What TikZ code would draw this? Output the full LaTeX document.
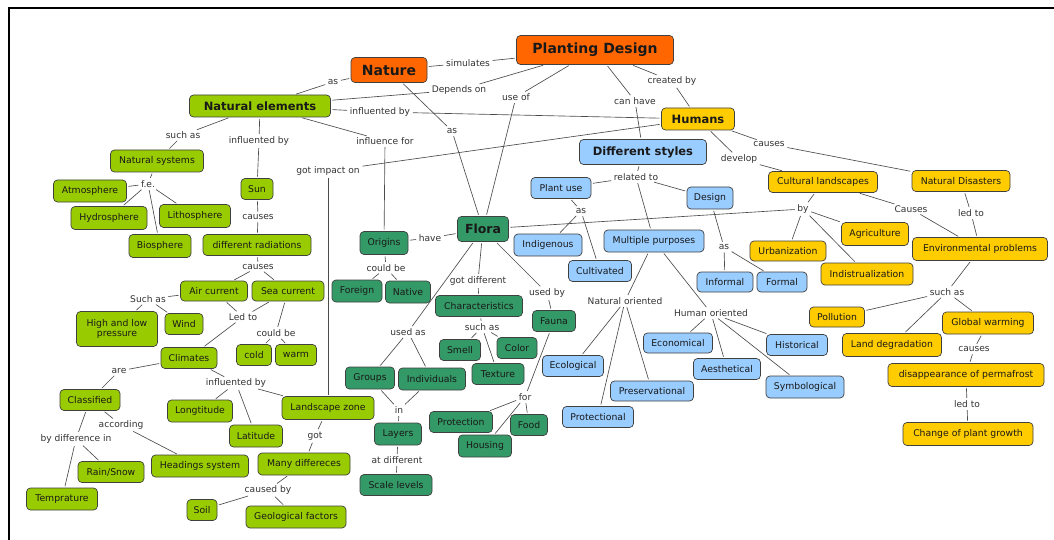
\documentclass[tikz,border=0pt]{standalone}
\usepackage{fontspec}
\setmainfont{DejaVu Sans}
\definecolor{corange}{RGB}{255,102,0}
\definecolor{clime}{RGB}{153,204,0}
\definecolor{cdg}{RGB}{51,153,102}
\definecolor{clb}{RGB}{153,204,255}
\definecolor{cyl}{RGB}{255,204,0}
\tikzset{
  box/.style={rounded corners=4pt, draw=black!75, line width=0.7pt, inner sep=1pt,
    font=\fontsize{9.3}{10.5}\selectfont, align=center, text=black!90},
  wh/.style 2 args={minimum width=#1pt, minimum height=#2pt},
  org/.style={box, fill=corange},
  lim/.style={box, fill=clime},
  dkg/.style={box, fill=cdg},
  lbl/.style={box, fill=clb},
  ylw/.style={box, fill=cyl},
  bigf/.style={font=\fontsize{14}{16}\bfseries\selectfont},
  medf/.style={font=\fontsize{11.5}{13}\bfseries\selectfont},
  lk/.style={inner sep=1pt, font=\fontsize{9.1}{10}\selectfont, text=black!80},
  ln/.style={draw=black!70, line width=0.65pt, shorten <=1.5pt, shorten >=1.5pt}
}
\newcommand\lkk[3]{\draw[ln] (#1) -- (#2); \foreach \t in {#3} {\draw[ln] (#2) -- (\t);}}
\begin{document}
\begin{tikzpicture}[x=1pt,y=-1pt]
\useasboundingbox (0,0) rectangle (1054,540);
\fill[white] (0,0) rectangle (1054,540);
\draw[line width=2pt] (9,541) -- (9,8) -- (1055,8);
% orange
\node[org,wh={157}{29},bigf] (pd) at (595,50) {Planting Design};
\node[org,wh={76}{25},bigf] (nat) at (389,70) {Nature};
% lime
\node[lim,wh={141}{22},medf] (ne) at (260,106) {Natural elements};
\node[lim,wh={93}{22}] (nsys) at (157,161) {Natural systems};
\node[lim,wh={73}{22}] (atm) at (90,191) {Atmosphere};
\node[lim,wh={76}{23}] (hyd) at (109,218) {Hydrosphere};
\node[lim,wh={71}{23}] (lith) at (195,216) {Lithosphere};
\node[lim,wh={62}{23}] (bio) at (160,246) {Biosphere};
\node[lim,wh={32}{21}] (sun) at (257,189) {Sun};
\node[lim,wh={108}{21}] (rad) at (257,245) {different radiations};
\node[lim,wh={67}{20}] (air) at (214,291) {Air current};
\node[lim,wh={72}{20}] (sea) at (288,291) {Sea current};
\node[lim,wh={81}{35}] (hlp) at (117,329) {High and low\\pressure};
\node[lim,wh={38}{21}] (wind) at (184,324) {Wind};
\node[lim,wh={56}{21}] (clim) at (189,358) {Climates};
\node[lim,wh={35}{21}] (cold) at (254,355) {cold};
\node[lim,wh={41}{21}] (warm) at (296,355) {warm};
\node[lim,wh={60}{21}] (cls) at (90,400) {Classified};
\node[lim,wh={65}{22}] (lon) at (200,411) {Longtitude};
\node[lim,wh={53}{22}] (lat) at (256,436) {Latitude};
\node[lim,wh={92}{23}] (lz) at (328,408) {Landscape zone};
\node[lim,wh={97}{22}] (hs) at (200,466) {Headings system};
\node[lim,wh={66}{21}] (rs) at (111,472) {Rain/Snow};
\node[lim,wh={71}{22}] (tmp) at (62,499) {Temprature};
\node[lim,wh={92}{22}] (md) at (304,464) {Many differeces};
\node[lim,wh={30}{21}] (soil) at (202,510) {Soil};
\node[lim,wh={100}{22}] (geo) at (296,517) {Geological factors};
% dark green
\node[dkg,wh={51}{25},font=\fontsize{12.5}{14}\bfseries\selectfont] (flora) at (483,229) {Flora};
\node[dkg,wh={48}{23}] (orig) at (384,243) {Origins};
\node[dkg,wh={50}{22}] (forg) at (357,291) {Foreign};
\node[dkg,wh={45}{22}] (nati) at (408,292) {Native};
\node[dkg,wh={87}{21}] (char) at (479,306) {Characteristics};
\node[dkg,wh={41}{21}] (smell) at (460,350) {Smell};
\node[dkg,wh={40}{21}] (color) at (517,348) {Color};
\node[dkg,wh={52}{21}] (tex) at (498,374) {Texture};
\node[dkg,wh={43}{21}] (fauna) at (554,321) {Fauna};
\node[dkg,wh={49}{22}] (grp) at (370,378) {Groups};
\node[dkg,wh={67}{22}] (ind) at (432,379) {Individuals};
\node[dkg,wh={47}{22}] (lay) at (398,434) {Layers};
\node[dkg,wh={72}{21}] (scl) at (396,485) {Scale levels};
\node[dkg,wh={63}{21}] (prot) at (461,422) {Protection};
\node[dkg,wh={37}{21}] (food) at (529,425) {Food};
\node[dkg,wh={53}{22}] (hous) at (485,446) {Housing};
% light blue
\node[lbl,wh={127}{25},medf] (ds) at (643,152) {Different styles};
\node[lbl,wh={60}{21}] (pu) at (561,188) {Plant use};
\node[lbl,wh={46}{22}] (des) at (710,198) {Design};
\node[lbl,wh={68}{22}] (indg) at (548,245) {Indigenous};
\node[lbl,wh={63}{21}] (cult) at (600,271) {Cultivated};
\node[lbl,wh={100}{22}] (mp) at (654,241) {Multiple purposes};
\node[lbl,wh={56}{20}] (inf) at (725,282) {Informal};
\node[lbl,wh={50}{20}] (frm) at (782,282) {Formal};
\node[lbl,wh={61}{21}] (eco) at (573,366) {Ecological};
\node[lbl,wh={69}{20}] (econ) at (678,343) {Economical};
\node[lbl,wh={67}{21}] (aes) at (727,369) {Aesthetical};
\node[lbl,wh={61}{21}] (his) at (797,345) {Historical};
\node[lbl,wh={78}{22}] (sym) at (805,387) {Symbological};
\node[lbl,wh={83}{20}] (pres) at (652,391) {Preservational};
\node[lbl,wh={71}{21}] (protl) at (598,417) {Protectional};
% yellow
\node[ylw,wh={73}{22},medf] (hum) at (698,119) {Humans};
\node[ylw,wh={109}{21}] (cl) at (823,182) {Cultural landscapes};
\node[ylw,wh={98}{21}] (nd) at (961,181) {Natural Disasters};
\node[ylw,wh={67}{23}] (agr) at (875,234) {Agriculture};
\node[ylw,wh={76}{20}] (urb) at (788,251) {Urbanization};
\node[ylw,wh={92}{22}] (indu) at (867,274) {Indistrualization};
\node[ylw,wh={135}{23}] (env) at (980,249) {Environmental problems};
\node[ylw,wh={55}{20}] (pol) at (837,317) {Pollution};
\node[ylw,wh={91}{22}] (gw) at (988,323) {Global warming};
\node[ylw,wh={99}{23}] (ld) at (892,345) {Land degradation};
\node[ylw,wh={156}{23}] (dp) at (966,375) {disappearance of permafrost};
\node[ylw,wh={130}{23}] (cpg) at (968,434) {Change of plant growth};
% link labels
\node[lk] (l1) at (468,63) {simulates};
\node[lk] (l2) at (333,82) {as};
\node[lk] (l3) at (459,90) {Depends on};
\node[lk] (l4) at (516,97) {use of};
\node[lk] (l5) at (635,101) {can have};
\node[lk] (l6) at (672,81) {created by};
\node[lk] (l7) at (380,112) {influented by};
\node[lk] (l8) at (385,141) {influence for};
\node[lk] (l9) at (452,131) {as};
\node[lk] (l10) at (328,171) {got impact on};
\node[lk] (l11) at (183,135) {such as};
\node[lk] (l12) at (259,141) {influented by};
\node[lk] (l13) at (148,184) {f.e.};
\node[lk] (l14) at (258,217) {causes};
\node[lk] (l15) at (258,267) {causes};
\node[lk] (l16) at (148,299) {Such as};
\node[lk] (l17) at (243,317) {Led to};
\node[lk] (l18) at (276,333) {could be};
\node[lk] (l19) at (119,371) {are};
\node[lk] (l20) at (236,383) {influented by};
\node[lk] (l21) at (121,425) {according};
\node[lk] (l22) at (76,439) {by difference in};
\node[lk] (l23) at (315,436) {got};
\node[lk] (l24) at (268,490) {caused by};
\node[lk] (l25) at (430,238) {have};
\node[lk] (l26) at (386,268) {could be};
\node[lk] (l27) at (478,281) {got different};
\node[lk] (l28) at (547,293) {used by};
\node[lk] (l29) at (408,332) {used as};
\node[lk] (l30) at (482,327) {such as};
\node[lk] (l31) at (525,397) {for};
\node[lk] (l32) at (399,410) {in};
\node[lk] (l33) at (397,460) {at different};
\node[lk] (l34) at (636,177) {related to};
\node[lk] (l35) at (581,211) {as};
\node[lk] (l36) at (724,247) {as};
\node[lk] (l37) at (739,159) {develop};
\node[lk] (l38) at (769,144) {causes};
\node[lk] (l39) at (803,209) {by};
\node[lk] (l40) at (911,209) {Causes};
\node[lk] (l41) at (971,213) {led to};
\node[lk] (l42) at (947,292) {such as};
\node[lk] (l43) at (974,349) {causes};
\node[lk] (l44) at (967,404) {led to};
\node[lk] (l45) at (625,301) {Natural oriented};
\node[lk] (l46) at (711,313) {Human oriented};
% connectors
\lkk{nat}{l1}{pd}
\lkk{nat}{l2}{ne}
\lkk{pd}{l3}{ne}
\lkk{pd}{l4}{flora}
\lkk{pd}{l5}{ds}
\lkk{pd}{l6}{hum}
\lkk{ne}{l7}{hum}
\lkk{ne}{l8}{orig}
\lkk{nat}{l9}{flora}
\lkk{hum}{l10}{lz}
\lkk{ne}{l11}{nsys}
\lkk{ne}{l12}{sun}
\lkk{nsys}{l13}{atm,hyd,lith,bio}
\lkk{sun}{l14}{rad}
\lkk{rad}{l15}{air,sea}
\lkk{air}{l16}{hlp,wind}
\lkk{air}{l17}{clim}
\draw[ln] (sea) -- (l17);
\lkk{sea}{l18}{cold,warm}
\lkk{clim}{l19}{cls}
\lkk{clim}{l20}{lon,lat,lz}
\lkk{cls}{l21}{hs}
\lkk{cls}{l22}{rs,tmp}
\lkk{lz}{l23}{md}
\lkk{md}{l24}{soil,geo}
\lkk{flora}{l25}{orig}
\lkk{orig}{l26}{forg,nati}
\lkk{flora}{l27}{char}
\lkk{flora}{l28}{fauna}
\lkk{flora}{l29}{grp,ind}
\lkk{char}{l30}{smell,color,tex}
\lkk{fauna}{l31}{prot,food,hous}
\lkk{grp}{l32}{lay}
\draw[ln] (ind) -- (l32);
\lkk{lay}{l33}{scl}
\lkk{ds}{l34}{pu,des,mp}
\lkk{pu}{l35}{indg,cult}
\lkk{des}{l36}{inf,frm}
\lkk{hum}{l37}{cl}
\lkk{hum}{l38}{nd}
\lkk{cl}{l39}{urb,agr,indu,flora}
\lkk{cl}{l40}{env}
\lkk{nd}{l41}{env}
\lkk{env}{l42}{pol,ld,gw}
\lkk{gw}{l43}{dp}
\lkk{dp}{l44}{cpg}
\lkk{mp}{l45}{eco,protl,pres}
\lkk{mp}{l46}{econ,aes,his,sym}
\end{tikzpicture}
\end{document}
